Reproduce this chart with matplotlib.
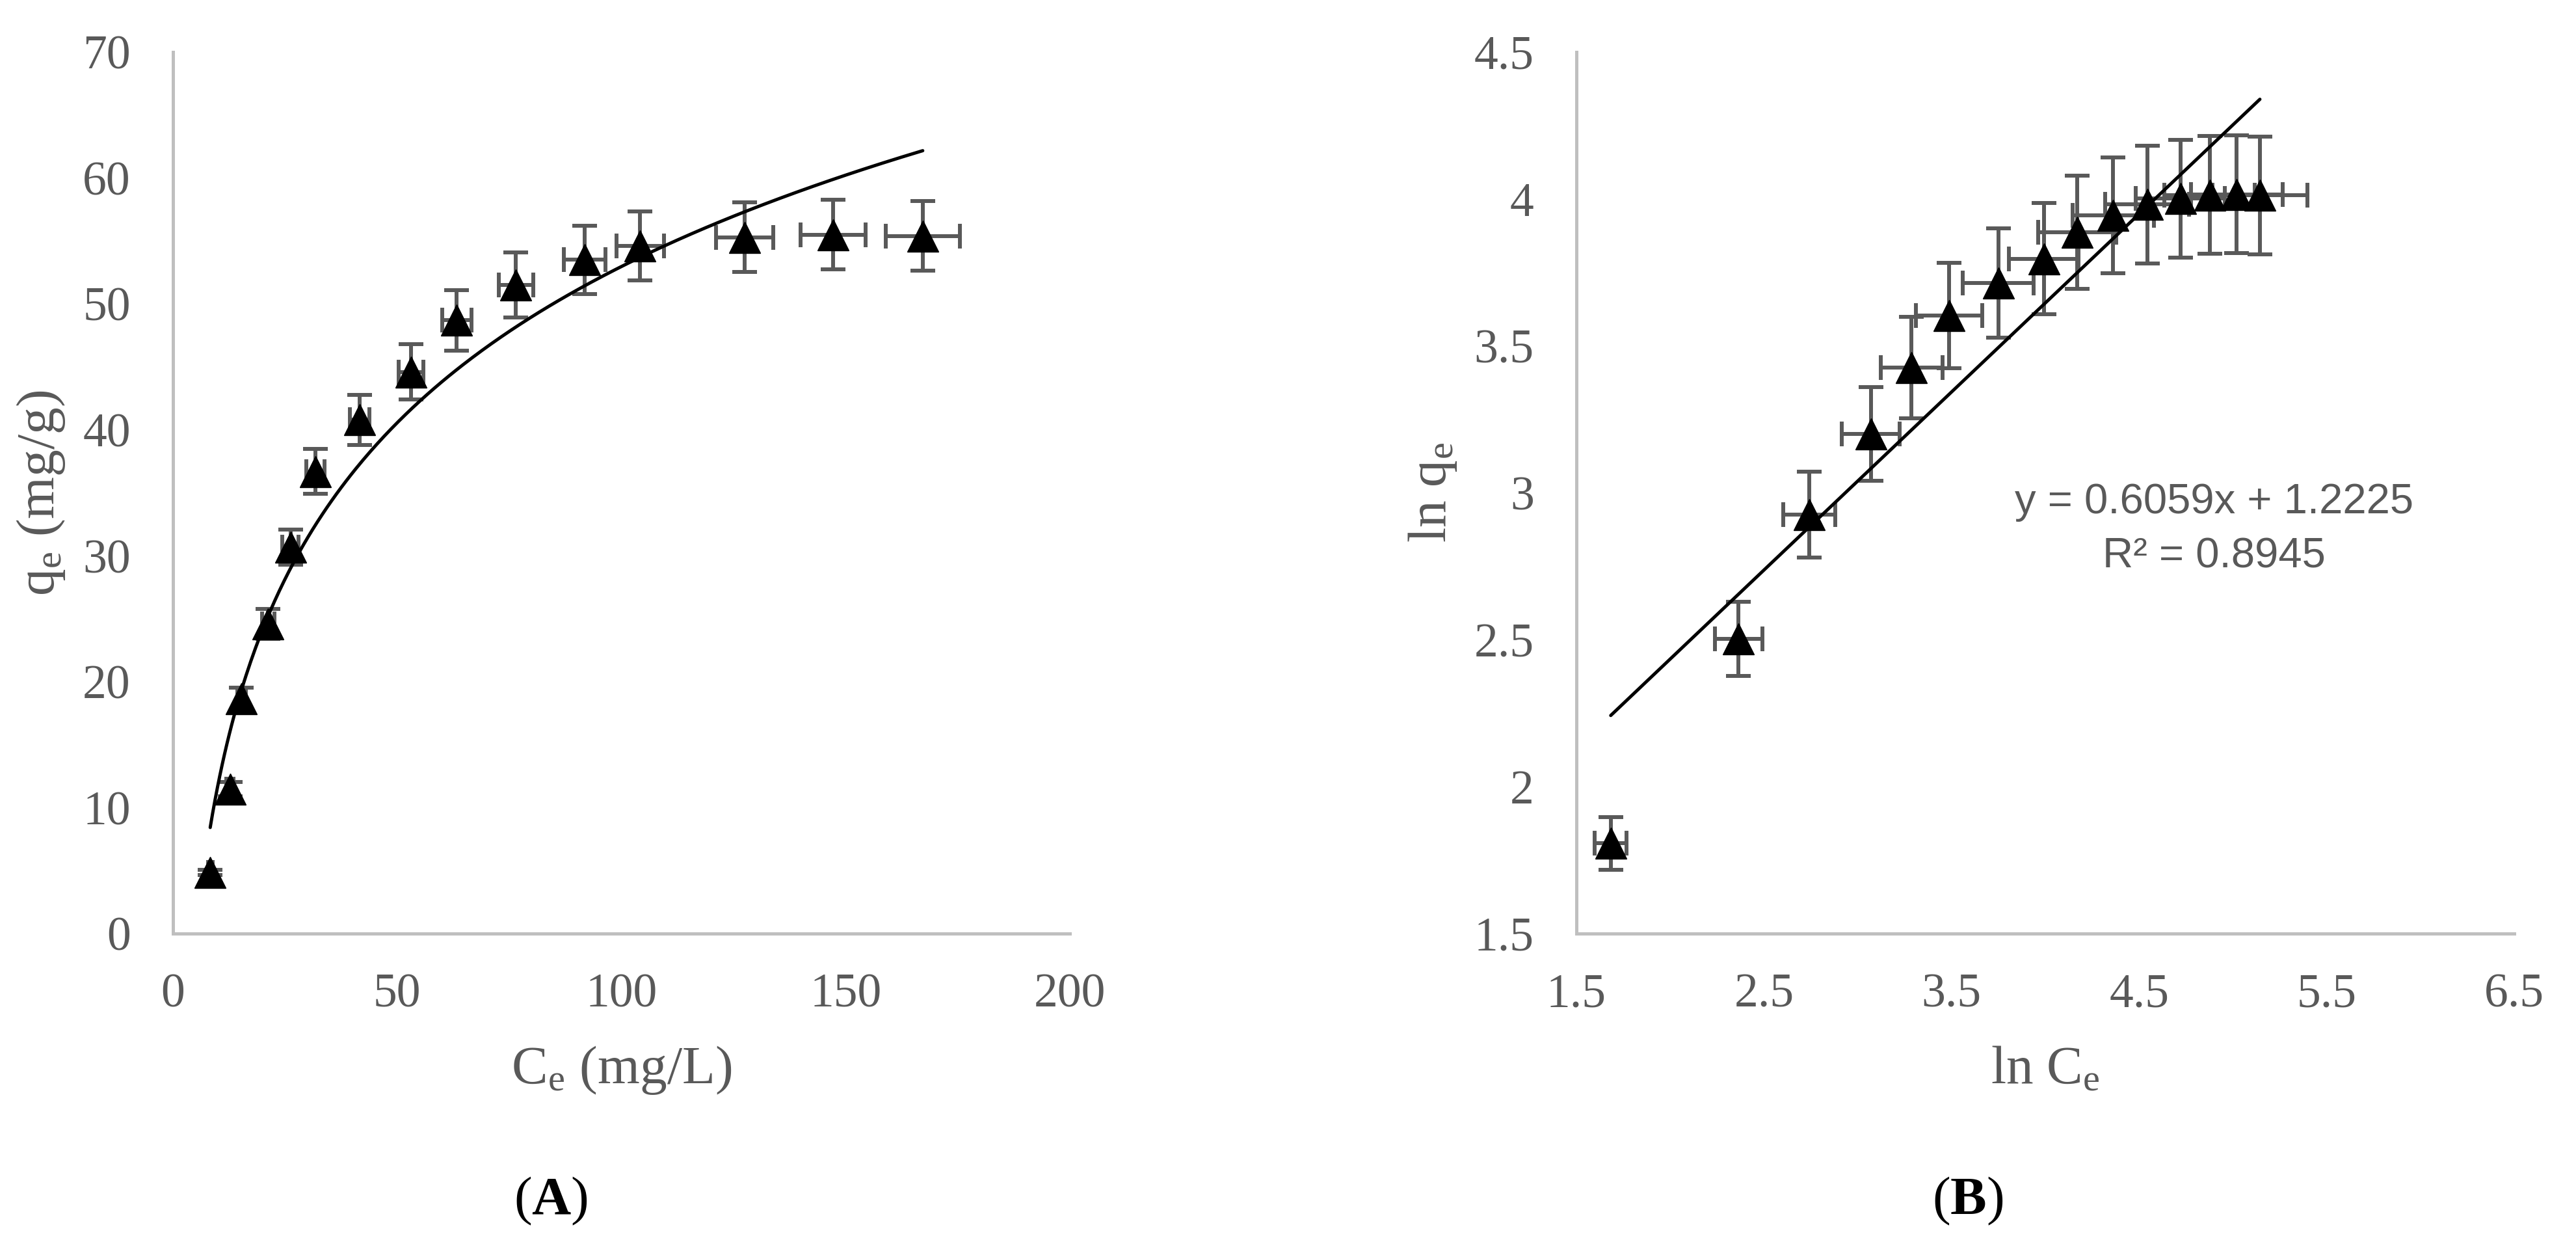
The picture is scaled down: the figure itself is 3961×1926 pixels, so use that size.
import numpy as np
import matplotlib
matplotlib.use("Agg")
import matplotlib.pyplot as plt

# ---------------- data ----------------
# Panel A: q_e versus C_e
ce = [8.3, 12.7, 15.3, 21.2, 26.2, 31.8, 41.6, 53.1, 63.3, 76.5, 91.8, 104.2, 127.5, 147.2, 167.2]
qe = [4.86, 11.47, 18.65, 24.6, 30.7, 36.7, 40.8, 44.6, 48.7, 51.5, 53.5, 54.6, 55.3, 55.5, 55.4]
ce_err = [0.5, 0.8, 1.0, 1.4, 1.8, 2.0, 2.2, 2.8, 3.2, 3.9, 4.6, 5.3, 6.4, 7.3, 8.3]
qe_err = [0.2, 0.57, 0.9, 1.2, 1.4, 1.8, 2.0, 2.2, 2.4, 2.6, 2.7, 2.75, 2.76, 2.77, 2.77]

# Panel B: ln q_e versus ln C_e
ln_ce = [1.683, 2.365, 2.742, 3.070, 3.287, 3.486, 3.749, 3.992, 4.170, 4.361, 4.543, 4.720, 4.876, 5.020, 5.144]
ln_qe = [1.807, 2.503, 2.925, 3.200, 3.426, 3.603, 3.714, 3.797, 3.887, 3.945, 3.981, 4.001, 4.014, 4.016, 4.012]
ln_ce_err = [0.085, 0.125, 0.139, 0.155, 0.165, 0.176, 0.189, 0.185, 0.208, 0.217, 0.225, 0.237, 0.240, 0.245, 0.254]
ln_qe_err = [0.09, 0.126, 0.146, 0.16, 0.172, 0.18, 0.186, 0.19, 0.193, 0.197, 0.2, 0.2, 0.2, 0.2, 0.2]

# Linear trendline of panel B as printed on the chart
slope_b = 0.6059
intercept_b = 1.2225
r2_b = 0.8945

xticks_a = [0, 50, 100, 150, 200]
yticks_a = [0, 10, 20, 30, 40, 50, 60, 70]
xticks_b = [1.5, 2.5, 3.5, 4.5, 5.5, 6.5]
yticks_b = [1.5, 2, 2.5, 3, 3.5, 4, 4.5]

# ---------------- style ----------------
plt.rcParams["mathtext.fontset"] = "custom"
plt.rcParams["mathtext.rm"] = "Liberation Serif"
plt.rcParams["mathtext.it"] = "Liberation Serif:italic"
plt.rcParams["mathtext.bf"] = "Liberation Serif:bold"

GREY_TXT = "#595959"
AXIS_CLR = "#BFBFBF"
SERIF = ["Liberation Serif", "DejaVu Serif"]
SANS = ["Liberation Sans", "DejaVu Sans"]
TICK_FS = 53
LABEL_FS = 60

W, H = 3961, 1926
fig = plt.figure(figsize=(W / 100, H / 100), dpi=100)
fig.patch.set_facecolor("white")

bottom = 1 - 1435 / H
height = (1435 - 80) / H
axA = fig.add_axes([266 / W, bottom, (1645 - 266) / W, height])
axB = fig.add_axes([2424 / W, bottom, (3866 - 2424) / W, height])


def style_axes(ax):
    for s in ["top", "right"]:
        ax.spines[s].set_visible(False)
    for s in ["left", "bottom"]:
        ax.spines[s].set_color(AXIS_CLR)
        ax.spines[s].set_linewidth(3.6)
    ax.tick_params(axis="both", length=0, colors=GREY_TXT, labelsize=TICK_FS)
    ax.tick_params(axis="x", pad=44)
    ax.tick_params(axis="y", pad=47)
    for lab in ax.get_xticklabels() + ax.get_yticklabels():
        lab.set_fontfamily(SERIF)
        lab.set_color(GREY_TXT)


def draw_points(ax, x, y, xerr, yerr):
    ax.errorbar(x, y, xerr=xerr, yerr=yerr, fmt="none", ecolor=GREY_TXT,
                elinewidth=4.3, capsize=14, capthick=4.3, zorder=2)
    ax.plot(x, y, linestyle="none", marker="^", markersize=34, color="black",
            markeredgecolor="black", zorder=3)


# ---------------- Panel A ----------------
draw_points(axA, ce, qe, ce_err, qe_err)
# Logarithmic trendline fitted to the data (y = a ln x + b)
a_fit, b_fit = np.polyfit(np.log(ce), qe, 1)
xs = np.linspace(min(ce), max(ce), 300)
axA.plot(xs, a_fit * np.log(xs) + b_fit, color="black", lw=3.6, zorder=4,
         solid_capstyle="round")
axA.set_xlim(0, 200)
axA.set_ylim(0, 70)
axA.set_xticks(xticks_a)
axA.set_yticks(yticks_a)
axA.set_xticklabels([f"{v:g}" for v in xticks_a])
axA.set_yticklabels([f"{v:g}" for v in yticks_a])
style_axes(axA)
axA.set_xlabel(r"C$_\mathrm{e}$ (mg/L)", fontsize=LABEL_FS, color=GREY_TXT, family=SERIF)
axA.set_ylabel(r"q$_\mathrm{e}$ (mg/g)", fontsize=LABEL_FS, color=GREY_TXT, family=SERIF)
axA.xaxis.set_label_coords(0.5, (1435 - 1645) / 1355)
axA.xaxis.label.set_va("center")
axA.yaxis.set_label_coords((63 - 266) / 1379, 0.5)
axA.yaxis.label.set_va("center")

# ---------------- Panel B ----------------
draw_points(axB, ln_ce, ln_qe, ln_ce_err, ln_qe_err)
xl = np.array([min(ln_ce), max(ln_ce)])
axB.plot(xl, slope_b * xl + intercept_b, color="black", lw=3.6, zorder=4,
         solid_capstyle="round")
axB.set_xlim(1.5, 6.5)
axB.set_ylim(1.5, 4.5)
axB.set_xticks(xticks_b)
axB.set_yticks(yticks_b)
axB.set_xticklabels([f"{v:g}" for v in xticks_b])
axB.set_yticklabels([f"{v:g}" for v in yticks_b])
style_axes(axB)
axB.set_xlabel(r"ln C$_\mathrm{e}$", fontsize=LABEL_FS, color=GREY_TXT, family=SERIF)
axB.set_ylabel(r"ln q$_\mathrm{e}$", fontsize=LABEL_FS, color=GREY_TXT, family=SERIF)
axB.xaxis.set_label_coords(0.5, (1435 - 1645) / 1355)
axB.xaxis.label.set_va("center")
axB.yaxis.set_label_coords((2203 - 2424) / 1442, 0.5)
axB.yaxis.label.set_va("center")

eq_line = f"y = {slope_b:.4f}x + {intercept_b:.4f}"
r2_line = f"R\u00b2 = {r2_b:.4f}"
axB.text(4.9, 2.968, eq_line, ha="center", va="center", fontsize=47,
         color=GREY_TXT, family=SANS)
axB.text(4.9, 2.783, r2_line, ha="center", va="center", fontsize=47,
         color=GREY_TXT, family=SANS)

# ---------------- panel letters ----------------
fig.text(847 / W, 1 - 1846 / H, r"($\mathbf{A}$)", ha="center", va="center",
         fontsize=LABEL_FS, color="black", family=SERIF)
fig.text(3026 / W, 1 - 1846 / H, r"($\mathbf{B}$)", ha="center", va="center",
         fontsize=LABEL_FS, color="black", family=SERIF)

fig.savefig("out.png", dpi=100, facecolor="white")
